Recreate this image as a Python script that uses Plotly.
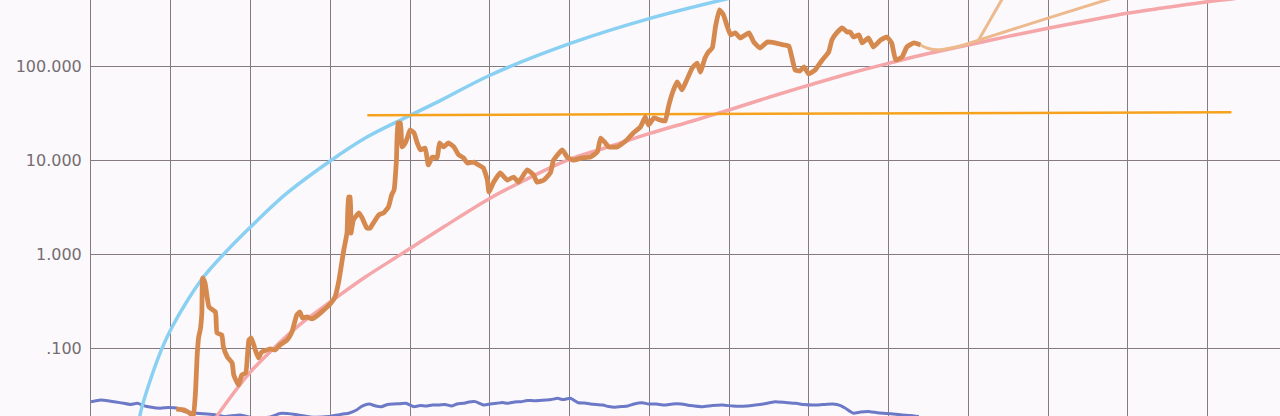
import plotly.graph_objects as go

# ---------------- data (x in years, y in price units, log axis) ----------------
price_x = [2011.07, 2011.17, 2011.25, 2011.28, 2011.31, 2011.33, 2011.35, 2011.37, 2011.39, 2011.40,
           2011.43, 2011.48, 2011.56, 2011.58, 2011.64, 2011.66, 2011.71, 2011.77, 2011.79, 2011.85,
           2011.89, 2011.94, 2011.98, 2012.01, 2012.06, 2012.10, 2012.14, 2012.25, 2012.31, 2012.37,
           2012.46, 2012.52, 2012.58, 2012.62, 2012.65, 2012.71, 2012.77, 2012.83, 2012.92, 2013.00,
           2013.06, 2013.11, 2013.17, 2013.21, 2013.23, 2013.25, 2013.26, 2013.29, 2013.36, 2013.40,
           2013.46, 2013.50, 2013.54, 2013.61, 2013.67, 2013.73, 2013.77, 2013.80, 2013.83, 2013.85,
           2013.88, 2013.90, 2013.94, 2013.97, 2014.00, 2014.05, 2014.09, 2014.13, 2014.19, 2014.23,
           2014.28, 2014.34, 2014.37, 2014.42, 2014.48, 2014.55, 2014.61, 2014.67, 2014.72, 2014.80,
           2014.86, 2014.92, 2014.97, 2014.99, 2015.05, 2015.13, 2015.22, 2015.30, 2015.36, 2015.47,
           2015.55, 2015.59, 2015.68, 2015.76, 2015.80, 2015.91, 2015.97, 2016.05, 2016.16, 2016.26,
           2016.35, 2016.39, 2016.45, 2016.49, 2016.60, 2016.72, 2016.80, 2016.89, 2016.95, 2016.99,
           2017.06, 2017.14, 2017.20, 2017.24, 2017.29, 2017.35, 2017.41, 2017.47, 2017.54, 2017.60,
           2017.64, 2017.70, 2017.74, 2017.79, 2017.83, 2017.88, 2017.93, 2017.98, 2018.02, 2018.08,
           2018.14, 2018.25, 2018.31, 2018.39, 2018.48, 2018.58, 2018.69, 2018.75, 2018.79, 2018.83,
           2018.89, 2018.94, 2019.00, 2019.08, 2019.17, 2019.25, 2019.29, 2019.35, 2019.42, 2019.48,
           2019.52, 2019.56, 2019.63, 2019.67, 2019.75, 2019.81, 2019.90, 2019.98, 2020.04, 2020.09,
           2020.17, 2020.23, 2020.32, 2020.40]
price_y = [0.0226, 0.0221, 0.0200, 0.0173, 0.0335, 0.0810, 0.132, 0.157, 0.238, 0.562,
           0.497, 0.276, 0.244, 0.146, 0.139, 0.104, 0.081, 0.0699, 0.0521, 0.0407,
           0.0521, 0.0547, 0.123, 0.129, 0.0962, 0.0791, 0.0916, 0.0986, 0.0962, 0.109,
           0.123, 0.150, 0.227, 0.244, 0.211, 0.216, 0.206, 0.221, 0.257, 0.297,
           0.352, 0.535, 1.12, 1.69, 4.10, 4.10, 1.69, 2.33, 2.77, 2.45,
           1.91, 1.91, 2.16, 2.64, 2.77, 3.21, 4.31, 4.86, 10.1, 25.1,
           25.1, 13.96, 15.4, 17.8, 21.2, 19.7, 15.4, 13.0, 13.6, 8.98,
           10.9, 10.7, 15.4, 14.0, 15.4, 14.0, 11.5, 10.7, 9.42, 9.65,
           8.98, 8.34, 6.21, 4.63, 5.91, 7.38, 6.21, 6.68, 5.91, 7.94,
           7.03, 5.91, 6.21, 7.38, 10.1, 13.0, 10.9, 10.1, 10.7, 10.9,
           12.4, 17.4, 15.4, 14.0, 14.0, 16.6, 19.7, 22.8, 29.1, 23.9,
           28.5, 27.0, 26.4, 37.2, 52.5, 68.7, 56.5, 72.1, 96.9, 109,
           87.8, 124, 143, 158, 265, 402, 356, 265, 218, 229,
           202, 229, 183, 158, 183, 179, 170, 166, 124, 92.2,
           90.0, 99.3, 83.6, 92.2, 118, 143, 192, 229, 258, 234,
           234, 207, 218, 179, 202, 162, 192, 207, 179, 118,
           127, 162, 179, 170]

proj_x = [2020.40, 2020.49, 2020.61, 2020.86, 2021.13]
proj_y = [170, 157, 151, 163, 192]
proj_fast_x = [2021.13, 2021.44]
proj_fast_y = [192, 552]
proj_slow_x = [2021.13, 2021.99, 2022.81]
proj_slow_y = [192, 327, 539]

pink_x = [2011.52, 2011.58, 2012.00, 2012.29, 2012.63, 2013.00, 2013.44, 2013.88, 2014.44, 2015.01,
          2015.48, 2015.96, 2016.49, 2017.01, 2017.52, 2018.00, 2018.51, 2019.01, 2019.51, 2020.01,
          2020.50, 2021.00, 2021.50, 2022.00, 2022.51, 2022.99, 2023.50, 2024.00, 2024.35]
pink_y = [0.0160, 0.0191, 0.0561, 0.100, 0.182, 0.312, 0.575, 0.996, 2.01, 4.00,
          6.44, 10.0, 14.0, 19.5, 26.1, 34.6, 47.5, 63.8, 84.7, 109,
          138, 170, 210, 256, 310, 371, 429, 492, 532]

sky_x = [2010.60, 2010.62, 2010.74, 2010.89, 2011.01, 2011.20, 2011.41, 2011.66, 2012.00, 2012.46,
         2013.00, 2013.46, 2013.88, 2014.38, 2015.01, 2016.01, 2017.01, 2018.02]
sky_y = [0.0153, 0.0205, 0.0450, 0.100, 0.165, 0.314, 0.575, 1.00, 1.96, 4.52,
         9.91, 17.8, 27.0, 43.5, 81.6, 177, 327, 539]

level_x = [2013.465, 2024.30]
level_y = [30.4, 32.7]

vol_x = [2010.00, 2010.12, 2010.19, 2010.31, 2010.41, 2010.49, 2010.58, 2010.66, 2010.74, 2010.87,
         2010.97, 2011.07, 2011.17, 2011.33, 2011.53, 2011.68, 2011.87, 2012.06, 2012.25, 2012.37,
         2012.56, 2012.75, 2012.98, 2013.13, 2013.23, 2013.33, 2013.40, 2013.49, 2013.57, 2013.64,
         2013.72, 2013.80, 2013.88, 2013.95, 2014.05, 2014.13, 2014.20, 2014.28, 2014.36, 2014.44,
         2014.52, 2014.59, 2014.67, 2014.74, 2014.82, 2014.93, 2015.01, 2015.08, 2015.16, 2015.23,
         2015.31, 2015.39, 2015.47, 2015.55, 2015.62, 2015.70, 2015.77, 2015.85, 2015.92, 2016.01,
         2016.11, 2016.19, 2016.26, 2016.34, 2016.42, 2016.49, 2016.57, 2016.65, 2016.73, 2016.81,
         2016.91, 2016.99, 2017.09, 2017.19, 2017.29, 2017.40, 2017.52, 2017.66, 2017.79, 2017.92,
         2018.05, 2018.22, 2018.33, 2018.43, 2018.52, 2018.58, 2018.71, 2018.84, 2018.94, 2019.05,
         2019.17, 2019.30, 2019.40, 2019.46, 2019.56, 2019.65, 2019.77, 2019.86, 2019.97, 2020.09,
         2020.17, 2020.27, 2020.38]
vol_y = [0.0270, 0.0282, 0.0279, 0.0269, 0.0260, 0.0253, 0.0260, 0.0246, 0.0237, 0.0230,
         0.0235, 0.0232, 0.0212, 0.0204, 0.0198, 0.0188, 0.0195, 0.0181, 0.0186, 0.0203,
         0.0198, 0.0186, 0.0188, 0.0198, 0.0204, 0.0221, 0.0243, 0.0256, 0.0243, 0.0239,
         0.0253, 0.0256, 0.0258, 0.0260, 0.0239, 0.0246, 0.0243, 0.0250, 0.0249, 0.0253,
         0.0243, 0.0256, 0.0260, 0.0269, 0.0271, 0.0249, 0.0256, 0.0260, 0.0265, 0.0260,
         0.0269, 0.0270, 0.0279, 0.0277, 0.0279, 0.0282, 0.0285, 0.0294, 0.0285, 0.0294,
         0.0264, 0.0262, 0.0256, 0.0252, 0.0249, 0.0240, 0.0236, 0.0240, 0.0243, 0.0256,
         0.0264, 0.0256, 0.0256, 0.0249, 0.0256, 0.0256, 0.0246, 0.0239, 0.0246, 0.0249,
         0.0243, 0.0243, 0.0249, 0.0256, 0.0265, 0.0270, 0.0265, 0.0260, 0.0252, 0.0249,
         0.0252, 0.0256, 0.0246, 0.0230, 0.0204, 0.0210, 0.0212, 0.0206, 0.0203, 0.0199,
         0.0195, 0.0193, 0.0188]

y_tick_vals = [0.1, 1, 10, 100]
y_tick_text = [".100", "1.000", "10.000", "100.000"]

# ---------------- figure ----------------
grid_color = "#847a80"
fig = go.Figure()

fig.add_trace(go.Scatter(x=vol_x, y=vol_y, mode="lines",
                         line=dict(color="#6c79c6", width=3, shape="spline", smoothing=0.5),
                         hoverinfo="skip"))
fig.add_trace(go.Scatter(x=pink_x, y=pink_y, mode="lines",
                         line=dict(color="#f5a6a9", width=3.5, shape="spline", smoothing=1.0),
                         hoverinfo="skip"))
fig.add_trace(go.Scatter(x=sky_x, y=sky_y, mode="lines",
                         line=dict(color="#8ad0f3", width=3.5, shape="spline", smoothing=1.0),
                         hoverinfo="skip"))
fig.add_trace(go.Scatter(x=level_x, y=level_y, mode="lines",
                         line=dict(color="#f6a21c", width=2.5), hoverinfo="skip"))
fig.add_trace(go.Scatter(x=proj_x, y=proj_y, mode="lines",
                         line=dict(color="#edb98d", width=3, shape="spline", smoothing=0.6),
                         hoverinfo="skip"))
fig.add_trace(go.Scatter(x=proj_fast_x, y=proj_fast_y, mode="lines",
                         line=dict(color="#edb98d", width=3), hoverinfo="skip"))
fig.add_trace(go.Scatter(x=proj_slow_x, y=proj_slow_y, mode="lines",
                         line=dict(color="#edb98d", width=3, shape="spline", smoothing=0.6),
                         hoverinfo="skip"))
fig.add_trace(go.Scatter(x=price_x, y=price_y, mode="lines",
                         line=dict(color="#d6894e", width=4.8, shape="spline", smoothing=0.4),
                         hoverinfo="skip"))

fig.update_layout(
    width=1280, height=416,
    margin=dict(l=91, r=0, t=0, b=0),
    paper_bgcolor="#fcf9fc", plot_bgcolor="#fcf9fc",
    showlegend=False,
    xaxis=dict(range=[2010, 2024.909], tick0=2010, dtick=1, showticklabels=False,
               showgrid=True, gridcolor=grid_color, gridwidth=1, zeroline=False,
               showline=False, ticks=""),
    yaxis=dict(type="log", range=[-1.720, 2.710], tickvals=y_tick_vals, ticktext=y_tick_text,
               showgrid=True, gridcolor=grid_color, gridwidth=1, zeroline=False,
               showline=True, linecolor=grid_color, linewidth=1, ticks="",
               ticklabelstandoff=5,
               tickfont=dict(family="DejaVu Sans", size=16, color="#746d72")),
)

fig.write_html("out.html", config={"displayModeBar": False},
               post_script="document.body.style.margin='0';document.body.style.background='#fcf9fc';")
